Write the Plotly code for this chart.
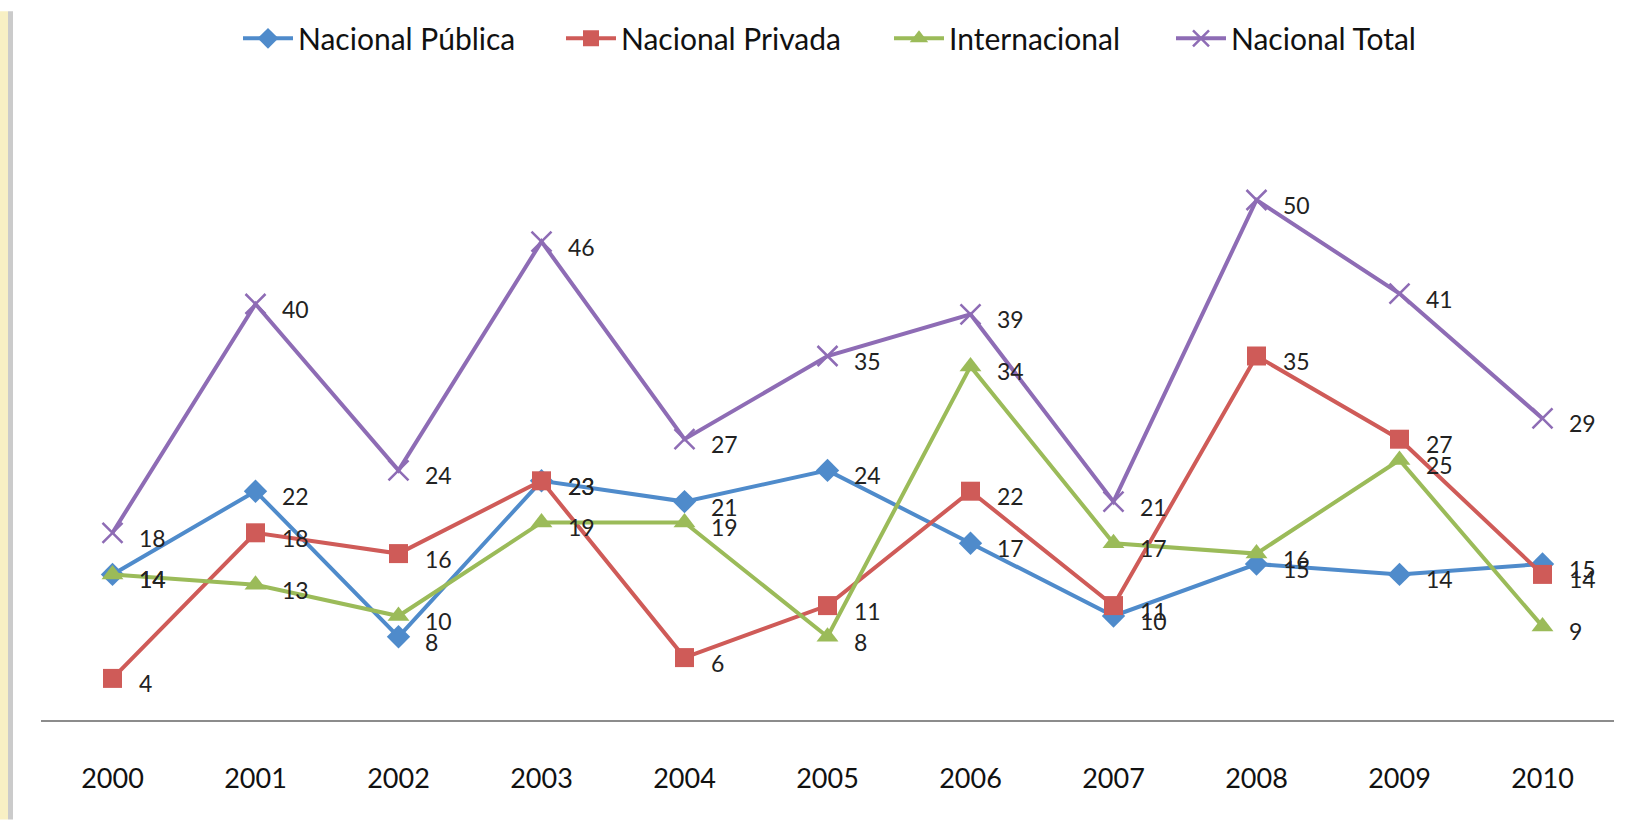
import plotly.graph_objects as go

years = ["2000", "2001", "2002", "2003", "2004", "2005", "2006", "2007", "2008", "2009", "2010"]
publica = [14, 22, 8, 23, 21, 24, 17, 10, 15, 14, 15]
privada = [4, 18, 16, 23, 6, 11, 22, 11, 35, 27, 14]
internacional = [14, 13, 10, 19, 19, 8, 34, 17, 16, 25, 9]
total = [18, 40, 24, 46, 27, 35, 39, 21, 50, 41, 29]

series = [
    ("Nacional Pública", publica, "#4F8BCB", "diamond", 18),
    ("Nacional Privada", privada, "#CF5B58", "square", 19),
    ("Internacional", internacional, "#9BBB59", "triangle-up", 19),
    ("Nacional Total", total, "#8E6CB5", "x-thin", 20),
]
legend_starts = [243, 566, 894, 1176]  # px where each legend symbol starts

FONT = "Lato"
W, H = 1627, 821
ML, MR, MT, MB = 41, 13, 86, 101
PW = W - ML - MR
PH = H - MT - MB

fig = go.Figure()
annotations = []
legends = {}
for k, (name, vals, color, sym, size) in enumerate(series):
    lg = "legend" if k == 0 else f"legend{k + 1}"
    marker = dict(symbol=sym, size=size, color=color)
    if sym == "x-thin":
        marker["line"] = dict(color=color, width=2.5)
    fig.add_trace(go.Scatter(
        x=years, y=vals, name=name, mode="lines+markers",
        line=dict(color=color, width=4), marker=marker, legend=lg,
    ))
    legends[lg] = dict(
        orientation="h", x=(legend_starts[k] - 5 - ML) / PW, xanchor="left",
        y=1 + (MT - 1) / PH, yanchor="top",
        font=dict(family=FONT, size=30, color="#111111"), itemwidth=50,
        bgcolor="rgba(0,0,0,0)", borderwidth=0,
    )
    for i, yv in enumerate(vals):
        annotations.append(dict(
            x=i, y=yv, xref="x", yref="y", text=str(yv), showarrow=False,
            xanchor="left", yanchor="middle", xshift=24, yshift=-5,
            font=dict(family=FONT, size=23, color="#222222"),
        ))

shapes = [
    dict(type="rect", xref="paper", yref="paper",
         x0=-ML / PW, x1=-(ML - 8) / PW, y0=-MB / PH, y1=1 + MT / PH,
         fillcolor="#F8F0C4", line=dict(width=0), layer="below"),
    dict(type="rect", xref="paper", yref="paper",
         x0=-(ML - 8) / PW, x1=-(ML - 13) / PW, y0=-MB / PH, y1=1 + MT / PH,
         fillcolor="#CBCBCB", line=dict(width=0), layer="below"),
]

fig.update_layout(
    width=W, height=H,
    margin=dict(l=ML, r=MR, t=MT, b=MB),
    paper_bgcolor="white", plot_bgcolor="white",
    font=dict(family=FONT, size=27, color="#111111"),
    showlegend=True,
    xaxis=dict(type="category", range=[-0.5, 10.5], showgrid=False, zeroline=False,
               showline=True, linecolor="#8C8C8C", linewidth=2,
               ticks="", ticklabelstandoff=34,
               tickfont=dict(family=FONT, size=27, color="#111111")),
    yaxis=dict(range=[0, 60], showgrid=False, zeroline=False, showline=False,
               showticklabels=False, ticks=""),
    annotations=annotations,
    shapes=shapes,
    **legends,
)

fig.write_html("out.html", config={"displayModeBar": False},
               post_script="document.body.style.margin='0';document.body.style.overflow='hidden';")
